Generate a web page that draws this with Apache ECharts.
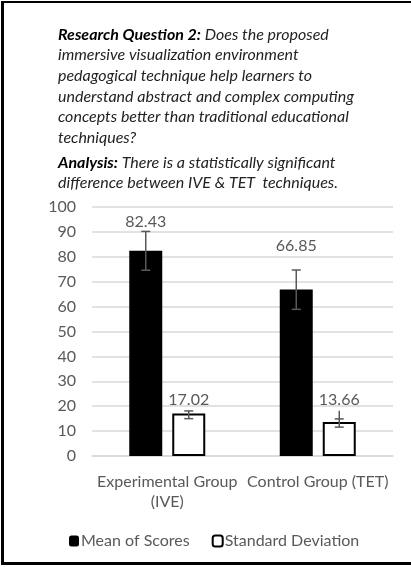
<!DOCTYPE html>
<html>
<head>
<meta charset="utf-8">
<script src="https://cdn.jsdelivr.net/npm/echarts@6/dist/echarts.min.js"></script>
<style>
  html, body { margin: 0; padding: 0; background: #fff; }
  #chart { width: 411px; height: 567px; }
</style>
</head>
<body>
<div id="chart"></div>
<script>
// chart values
const groups = ['Experimental Group\n(IVE)', 'Control Group (TET)'];
const meanScores = [82.43, 66.85];
const stdDevs = [17.02, 13.66];
// error bar extents: [line top, top cap, bottom cap]
const meanErr = [[90.2, 90.2, 74.6], [74.7, 74.7, 58.9]];
const sdErr = [[18.1, 18.1, 15.0], [18.2, 14.9, 11.6]];
// where the value labels sit (axis units)
const meanLabelAt = [94.1, 84.5];
const sdLabelAt = [22.5, 22.5];
const yTicks = [0, 10, 20, 30, 40, 50, 60, 70, 80, 90, 100];

const FONT = 'Lato';
const GREY = '#595959';
const BAR_W = 33;
const BAR_GAP = 10;

const chart = echarts.init(document.getElementById('chart'));

function errorBars(offsetSign, errs) {
    return function (params, api) {
        const idx = api.value(0);
        const e = errs[idx];
        const cx = api.coord([idx, 0])[0] + offsetSign * (BAR_W + BAR_GAP) / 2;
        const yTop = api.coord([idx, e[0]])[1];
        const yCap = api.coord([idx, e[1]])[1];
        const yBot = api.coord([idx, e[2]])[1];
        const style = { stroke: GREY, lineWidth: 1.5 };
        return {
            type: 'group',
            children: [
                { type: 'line', shape: { x1: cx, y1: yTop, x2: cx, y2: yBot }, style },
                { type: 'line', shape: { x1: cx - 4.5, y1: yCap, x2: cx + 4.5, y2: yCap }, style },
                { type: 'line', shape: { x1: cx - 4.5, y1: yBot, x2: cx + 4.5, y2: yBot }, style }
            ]
        };
    };
}

function valueLabels(offsetSign, values, at) {
    return function (params, api) {
        const idx = api.value(0);
        const p = api.coord([idx, at[idx]]);
        return {
            type: 'text',
            x: p[0] + offsetSign * (BAR_W + BAR_GAP) / 2,
            y: p[1],
            style: {
                text: values[idx].toFixed(2),
                fill: GREY,
                font: '16px ' + FONT,
                align: 'center',
                verticalAlign: 'middle'
            }
        };
    };
}

const idxData = groups.map((g, i) => [i]);

const titleStyle = {
    fontFamily: FONT, fontSize: 16, fontStyle: 'italic', fontWeight: 'normal',
    color: '#222', lineHeight: 20.7,
    rich: {
        b: { fontFamily: FONT, fontSize: 16, fontStyle: 'italic', fontWeight: 'bold', color: '#000', lineHeight: 20.7 }
    }
};

chart.setOption({
    animation: false,
    title: [
        {
            left: 53, top: 19,
            text: '{b|Research Question 2:} Does the proposed\nimmersive visualization environment\npedagogical technique help learners to\nunderstand abstract and complex computing\nconcepts better than traditional educational\ntechniques?',
            textStyle: titleStyle
        },
        {
            left: 53, top: 147,
            text: '{b|Analysis:} There is a statistically significant\ndifference between IVE & TET  techniques.',
            textStyle: titleStyle
        }
    ],
    graphic: [
        { type: 'rect', shape: { x: 1, y: 1, width: 3, height: 564 }, style: { fill: '#000' } },
        { type: 'rect', shape: { x: 1, y: 1, width: 410, height: 2 }, style: { fill: '#000' } },
        { type: 'rect', shape: { x: 1, y: 562, width: 410, height: 3 }, style: { fill: '#000' } }
    ],
    legend: {
        left: 64, top: 528,
        itemWidth: 10, itemHeight: 11, itemGap: 22,
        textStyle: { fontFamily: FONT, fontSize: 16, color: GREY, padding: [0, 0, 0, -3] },
        data: ['Mean of Scores', 'Standard Deviation']
    },
    grid: { left: 92, right: 18, top: 207, bottom: 111 },
    xAxis: {
        type: 'category',
        data: groups,
        axisLine: { lineStyle: { color: '#d9d9d9', width: 1.5 } },
        axisTick: { show: false },
        axisLabel: {
            interval: 0, hideOverlap: false,
            fontFamily: FONT, fontSize: 16, color: GREY, margin: 16, lineHeight: 20
        }
    },
    yAxis: {
        type: 'value',
        min: yTicks[0], max: yTicks[yTicks.length - 1], interval: 10,
        axisLine: { show: false },
        axisTick: { show: false },
        splitLine: { lineStyle: { color: '#d9d9d9', width: 1.5 } },
        axisLabel: { fontFamily: FONT, fontSize: 16, color: GREY, margin: 16 }
    },
    series: [
        {
            name: 'Mean of Scores', type: 'bar',
            barWidth: BAR_W, barGap: (BAR_GAP / BAR_W * 100) + '%',
            itemStyle: { color: '#000' },
            data: meanScores
        },
        {
            name: 'Standard Deviation', type: 'bar',
            barWidth: BAR_W,
            itemStyle: { color: '#fff', borderColor: '#000', borderWidth: 2 },
            data: stdDevs
        },
        { type: 'custom', renderItem: errorBars(-1, meanErr), data: idxData, z: 5 },
        { type: 'custom', renderItem: errorBars(1, sdErr), data: idxData, z: 5 },
        { type: 'custom', renderItem: valueLabels(-1, meanScores, meanLabelAt), data: idxData, z: 5 },
        { type: 'custom', renderItem: valueLabels(1, stdDevs, sdLabelAt), data: idxData, z: 5 }
    ]
});
</script>
</body>
</html>
